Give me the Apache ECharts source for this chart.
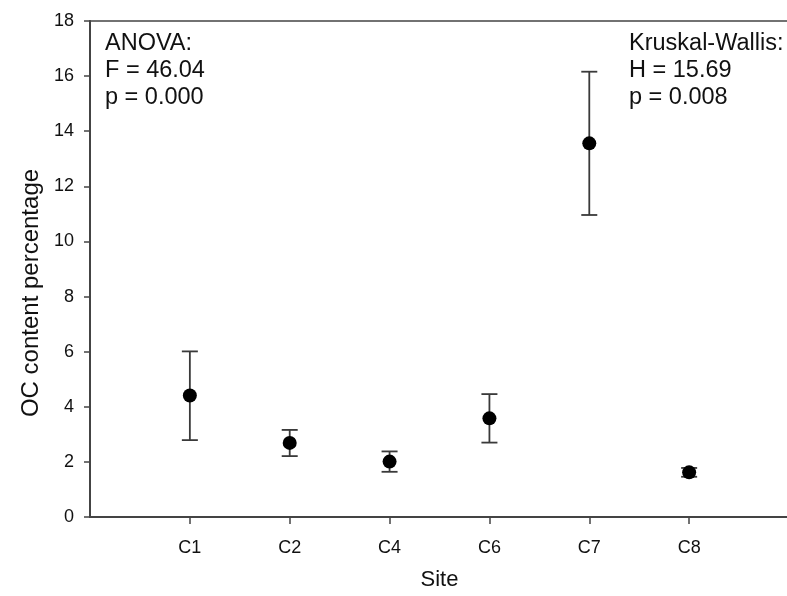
<!DOCTYPE html>
<html>
<head>
<meta charset="utf-8">
<script src="https://cdn.jsdelivr.net/npm/echarts@6/dist/echarts.min.js"></script>
<style>
  html, body { margin: 0; padding: 0; background: #fff; }
  #chart { width: 787px; height: 596px; }
</style>
</head>
<body>
<div id="chart"></div>
<script>
// Site means with error bar limits
const sites = ["C1", "C2", "C4", "C6", "C7", "C8"];
const means = [4.41, 2.69, 2.01, 3.58, 13.56, 1.62];
const lower = [2.79, 2.21, 1.64, 2.70, 10.96, 1.46];
const upper = [6.01, 3.16, 2.38, 4.46, 16.16, 1.78];
const yTicks = [0, 2, 4, 6, 8, 10, 12, 14, 16, 18];

const yTitle = "OC content percentage";
const xTitle = "Site";
const anovaText = ["ANOVA:", "F = 46.04", "p = 0.000"];
const kwText = ["Kruskal-Wallis:", "H = 15.69", "p = 0.008"];

const FONT = "Liberation Sans, Arial, sans-serif";
const AXIS_COLOR = "#444";
const TEXT_COLOR = "#111";

const chart = echarts.init(document.getElementById("chart"));

// x positions 1..n, one unit per site
const positions = sites.map((_, i) => i + 1);
const barData = sites.map((_, i) => [positions[i], lower[i], upper[i]]);
const pointData = sites.map((_, i) => [positions[i], means[i]]);

const option = {
  animation: false,
  grid: {
    left: 90,
    top: 21,
    bottom: 79,
    width: 699,
    outerBoundsMode: "none",
    containLabel: false,
    show: true,
    borderColor: AXIS_COLOR,
    borderWidth: 1.5,
  },
  xAxis: {
    type: "value",
    min: 0,
    max: sites.length + 1,
    interval: 1,
    name: xTitle,
    nameLocation: "middle",
    nameGap: 52,
    nameTextStyle: { fontFamily: FONT, fontSize: 22, color: TEXT_COLOR },
    axisLine: { show: true, lineStyle: { color: AXIS_COLOR, width: 2 } },
    axisTick: {
      show: true,
      length: 7,
      customValues: positions,
      lineStyle: { color: AXIS_COLOR, width: 1.5 },
    },
    axisLabel: {
      customValues: positions,
      margin: 22,
      fontFamily: FONT,
      fontSize: 18,
      color: TEXT_COLOR,
      formatter: (v) => sites[Math.round(v) - 1] || "",
    },
    splitLine: { show: false },
  },
  yAxis: {
    type: "value",
    min: 0,
    max: 18,
    interval: 2,
    axisLine: { show: true, lineStyle: { color: AXIS_COLOR, width: 2 } },
    axisTick: {
      show: true,
      length: 6,
      customValues: yTicks,
      lineStyle: { color: AXIS_COLOR, width: 1.5 },
    },
    axisLabel: {
      margin: 16,
      fontFamily: FONT,
      fontSize: 18,
      color: TEXT_COLOR,
    },
    splitLine: { show: false },
  },
  graphic: [
    {
      // y axis title, drawn as rotated text so it can sit where the figure has it
      type: "text",
      x: 31,
      y: 293,
      rotation: Math.PI / 2,
      style: {
        text: yTitle,
        fontFamily: FONT,
        fontSize: 24,
        fill: TEXT_COLOR,
        align: "center",
        verticalAlign: "middle",
      },
    },
    {
      type: "text",
      left: 105,
      top: 30,
      style: {
        text: anovaText.join("\n"),
        fontFamily: FONT,
        fontSize: 23.5,
        lineHeight: 27,
        fill: TEXT_COLOR,
      },
    },
    {
      type: "text",
      left: 629,
      top: 30,
      style: {
        text: kwText.join("\n"),
        fontFamily: FONT,
        fontSize: 23.5,
        lineHeight: 27,
        fill: TEXT_COLOR,
      },
    },
  ],
  series: [
    {
      type: "custom",
      name: "error",
      data: barData,
      encode: { x: 0, y: [1, 2] },
      renderItem: (params, api) => {
        const x = api.value(0);
        const lo = api.coord([x, api.value(1)]);
        const hi = api.coord([x, api.value(2)]);
        const half = 8;
        const style = { stroke: "#3a3a3a", lineWidth: 1.8, fill: null };
        return {
          type: "group",
          children: [
            { type: "line", shape: { x1: lo[0], y1: lo[1], x2: hi[0], y2: hi[1] }, style },
            { type: "line", shape: { x1: hi[0] - half, y1: hi[1], x2: hi[0] + half, y2: hi[1] }, style },
            { type: "line", shape: { x1: lo[0] - half, y1: lo[1], x2: lo[0] + half, y2: lo[1] }, style },
          ],
        };
      },
      z: 2,
    },
    {
      type: "scatter",
      name: "mean",
      data: pointData,
      symbol: "circle",
      symbolSize: 14,
      itemStyle: { color: "#000", opacity: 1 },
      z: 3,
    },
  ],
};

chart.setOption(option);
</script>
</body>
</html>
